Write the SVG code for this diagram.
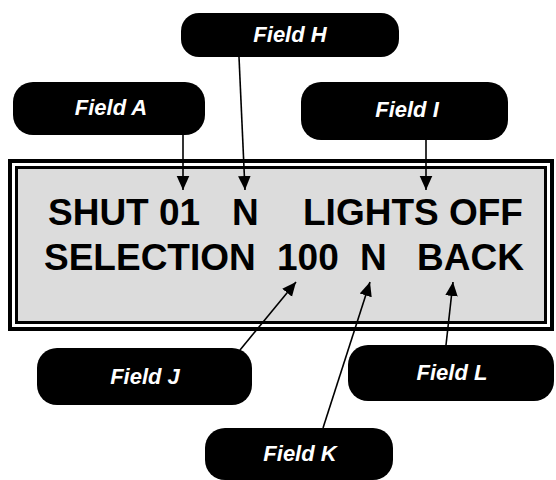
<svg xmlns="http://www.w3.org/2000/svg" width="556" height="480" viewBox="0 0 556 480">
<style>
.box{fill:#000}
.lbl{font-family:"Liberation Sans",Arial,sans-serif;font-weight:bold;font-style:italic;font-size:22px;fill:#fff;text-anchor:middle}
.disp{font-family:"Liberation Sans",Arial,sans-serif;font-weight:bold;font-size:37px;fill:#000}
.con{stroke:#000;stroke-width:1.6;fill:none;marker-end:url(#ah)}
</style>
<defs>
<marker id="ah" viewBox="0 0 10 10" refX="10" refY="5" markerWidth="14" markerHeight="14" markerUnits="userSpaceOnUse" orient="auto">
<path d="M0,0.5 L10,5 L0,9.5 z" fill="#000"/>
</marker>
</defs>
<rect width="556" height="480" fill="#fff"/>
<g id="display">
<rect x="10" y="161" width="542" height="168" fill="#fff" stroke="#000" stroke-width="4"/>
<rect x="16.5" y="167.5" width="529" height="155" fill="#dcdcdc" stroke="#000" stroke-width="3"/>
<text class="disp" x="48" y="225">SHUT 01</text>
<text class="disp" x="232" y="225">N</text>
<text class="disp" x="303" y="225">LIGHTS OFF</text>
<text class="disp" x="44" y="270">SELECTION</text>
<text class="disp" x="277" y="270">100</text>
<text class="disp" x="360" y="270">N</text>
<text class="disp" x="417" y="270">BACK</text>
</g>
<g id="connectors">
<line class="con" x1="183" y1="135" x2="183" y2="190"/>
<line class="con" x1="239" y1="57" x2="245" y2="190"/>
<line class="con" x1="426" y1="140" x2="426" y2="190"/>
<line class="con" x1="240" y1="350" x2="296" y2="282"/>
<line class="con" x1="323" y1="428" x2="370" y2="282"/>
<line class="con" x1="446" y1="345" x2="453" y2="282"/>
</g>
<g id="fieldA"><rect class="box" x="13" y="82" width="192" height="53" rx="20"/><text class="lbl" x="111" y="115">Field A</text></g>
<g id="fieldH"><rect class="box" x="181" y="13" width="218" height="44" rx="18"/><text class="lbl" x="290" y="42">Field H</text></g>
<g id="fieldI"><rect class="box" x="301" y="82" width="207" height="58" rx="20"/><text class="lbl" x="407" y="117">Field I</text></g>
<g id="fieldJ"><rect class="box" x="37" y="348" width="215" height="57" rx="20"/><text class="lbl" x="145" y="384">Field J</text></g>
<g id="fieldK"><rect class="box" x="205" y="428" width="188" height="52" rx="20"/><text class="lbl" x="300" y="461">Field K</text></g>
<g id="fieldL"><rect class="box" x="348" y="345" width="206" height="56" rx="20"/><text class="lbl" x="452" y="380">Field L</text></g>
</svg>
